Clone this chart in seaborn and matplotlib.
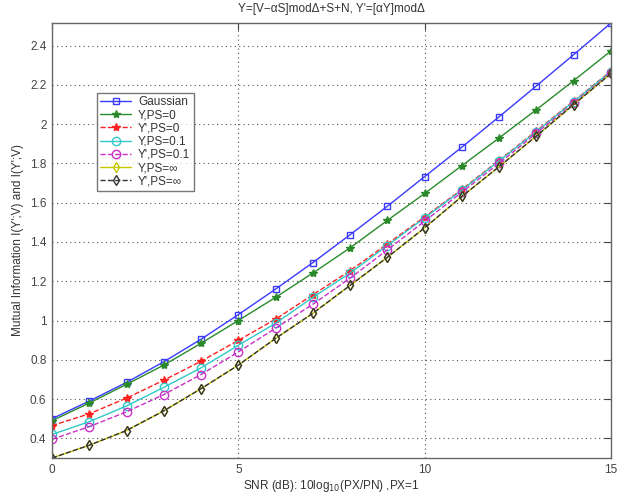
import matplotlib
matplotlib.use("Agg")
import matplotlib.pyplot as plt
import seaborn as sns
import pandas as pd

snr = list(range(16))
gaussian = [0.50, 0.59, 0.685, 0.79, 0.905, 1.03, 1.16, 1.295, 1.437, 1.582, 1.733, 1.883, 2.038, 2.195, 2.354, 2.515]
y_ps0 = [0.49, 0.58, 0.675, 0.773, 0.884, 1.0, 1.118, 1.242, 1.37, 1.51, 1.647, 1.789, 1.93, 2.074, 2.222, 2.373]
yp_ps0 = [0.465, 0.525, 0.605, 0.696, 0.793, 0.899, 1.007, 1.131, 1.254, 1.39, 1.528, 1.668, 1.816, 1.966, 2.118, 2.27]
y_ps01 = [0.42, 0.485, 0.565, 0.66, 0.759, 0.874, 0.986, 1.118, 1.242, 1.382, 1.523, 1.664, 1.813, 1.962, 2.115, 2.268]
yp_ps01 = [0.395, 0.46, 0.535, 0.623, 0.725, 0.84, 0.961, 1.083, 1.216, 1.36, 1.506, 1.654, 1.801, 1.954, 2.106, 2.262]
y_psinf = [0.30, 0.365, 0.44, 0.54, 0.653, 0.773, 0.909, 1.037, 1.179, 1.322, 1.472, 1.632, 1.784, 1.94, 2.1, 2.258]
yp_psinf = [0.30, 0.365, 0.44, 0.54, 0.653, 0.773, 0.909, 1.037, 1.179, 1.322, 1.472, 1.632, 1.784, 1.94, 2.1, 2.258]

labels = ["Gaussian", "Y,PS=0", "Y',PS=0", "Y,PS=0.1", "Y',PS=0.1", "Y,PS=\u221e", "Y',PS=\u221e"]
series = [gaussian, y_ps0, yp_ps0, y_ps01, yp_ps01, y_psinf, yp_psinf]
x_ticks = [0, 5, 10, 15]
y_ticks = [0.4, 0.6, 0.8, 1.0, 1.2, 1.4, 1.6, 1.8, 2.0, 2.2, 2.4]
y_tick_labels = ["0.4", "0.6", "0.8", "1", "1.2", "1.4", "1.6", "1.8", "2", "2.2", "2.4"]

styles = [
    dict(color="#3a3aff", marker="s", ls="-", ms=5, fill=False),
    dict(color="#2a8a2a", marker="*", ls="-", ms=6, fill=True),
    dict(color="#ff2020", marker="*", ls="--", ms=6, fill=True),
    dict(color="#30c8c8", marker="o", ls="-", ms=6, fill=False),
    dict(color="#c830c8", marker="o", ls="--", ms=6, fill=False),
    dict(color="#c8c800", marker="d", ls="-", ms=5.5, fill=False),
    dict(color="#333333", marker="d", ls="--", ms=5.5, fill=False),
]

sns.set_style("white")
plt.rcParams["font.family"] = ["Liberation Sans", "DejaVu Sans"]

fig = plt.figure(figsize=(6.31, 4.94), dpi=100)
ax = fig.add_axes([52/631, 1-458/494, (611-52)/631, (458-23)/494])

for lab, vals, st in zip(labels, series, styles):
    df = pd.DataFrame({"snr": snr, "mi": vals})
    sns.lineplot(data=df, x="snr", y="mi", ax=ax, label=lab, color=st["color"],
                 linestyle=st["ls"], marker=st["marker"], markersize=st["ms"],
                 markerfacecolor=(st["color"] if st["fill"] else "none"),
                 markeredgecolor=st["color"], markeredgewidth=1.0, linewidth=1.0)

ax.set_xlim(0, 15)
ax.set_ylim(0.3, 2.515)
ax.set_xticks(x_ticks)
ax.set_xticklabels([str(t) for t in x_ticks])
ax.set_yticks(y_ticks)
ax.set_yticklabels(y_tick_labels)
ax.grid(True, linestyle=(0, (1, 3)), color="#555555", linewidth=0.8)
ax.tick_params(direction="in", length=5, width=0.8, top=True, right=True,
               labelsize=8.5, colors="#444444", pad=4)
for sp in ax.spines.values():
    sp.set_color("#666666")
    sp.set_linewidth(1.0)
    sp.set_visible(True)

ax.set_title("Y=[V\u2212\u03b1S]mod\u0394+S+N, Y'=[\u03b1Y]mod\u0394", fontsize=8.5, color="#333333", pad=8)
ax.set_xlabel("SNR (dB): 10log$_{10}$(PX/PN) ,PX=1", fontsize=8.5, color="#333333", labelpad=2)
ax.set_ylabel("Mutual Information I(Y';V) and I(Y';V)", fontsize=8.5, color="#333333", labelpad=4)

leg = ax.legend(loc="upper left", bbox_to_anchor=(0.08, 0.84), fontsize=8.5, frameon=True,
                fancybox=False, edgecolor="#555555", handlelength=2.6, borderpad=0.3,
                labelspacing=0.1, handletextpad=0.6, borderaxespad=0)
leg.get_frame().set_linewidth(1.0)
for t in leg.get_texts():
    t.set_color("#333333")

fig.savefig("out.png", dpi=100)
